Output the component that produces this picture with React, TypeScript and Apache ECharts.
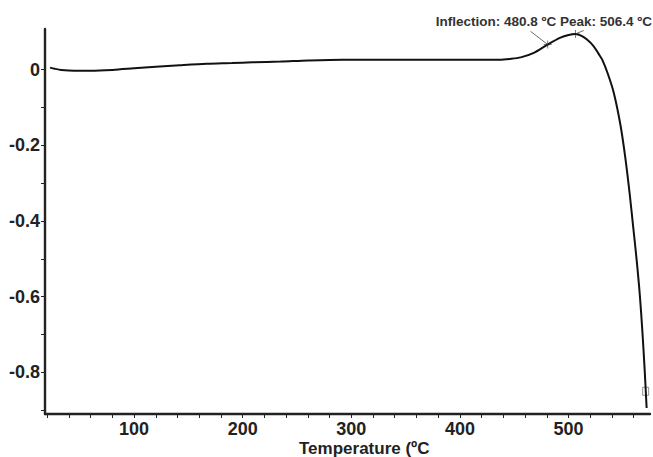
import React, { useEffect, useRef } from "react";
import * as echarts from "echarts";

// Temperature (ºC) and signal values
const temperature: number[] = [
  22.6, 27, 33, 45, 60, 80, 100, 120, 142, 167, 190, 209, 235, 260, 292, 320, 360, 400, 436,
  446, 456, 468, 480.8, 492.6, 500, 506.4, 512, 517, 523, 528, 531, 536, 541.7, 548, 552.5,
  556.2, 559.5, 562.7, 565.5, 567.9, 570.1, 571.9,
];
const signal: number[] = [
  0.005, 0.002, -0.001, -0.003, -0.003, -0.001, 0.003, 0.007, 0.011, 0.015, 0.017, 0.019, 0.021,
  0.024, 0.026, 0.026, 0.026, 0.026, 0.026, 0.028, 0.032, 0.044, 0.066, 0.084, 0.091, 0.094,
  0.089, 0.079, 0.062, 0.04, 0.026, -0.01, -0.062, -0.15, -0.238, -0.326, -0.415, -0.503,
  -0.591, -0.688, -0.794, -0.894,
];

const xTicks: number[] = [20, 40, 60, 80, 100, 120, 140, 160, 180, 200, 220, 240, 260, 280, 300, 320, 340, 360, 380, 400, 420, 440, 460, 480, 500, 520, 540, 560];
const xLabels: number[] = [100, 200, 300, 400, 500];
const yTicks: number[] = [-0.9, -0.8, -0.7, -0.6, -0.5, -0.4, -0.3, -0.2, -0.1, 0];
const yLabels: number[] = [-0.8, -0.6, -0.4, -0.2, 0];

const inflection: [number, number] = [480.8, 0.066];
const peak: [number, number] = [506.4, 0.094];
const inflectionLeaderEnd: [number, number] = [465, 0.101];
const peakLeaderEnd: [number, number] = [514, 0.103];
const endMarker: [number, number] = [571, -0.85];

const annotationText = "Inflection: 480.8 ºC Peak: 506.4 ºC";
const xTitle = "Temperature (ºC";

const FONT = "'Liberation Sans', Arial, Helvetica, sans-serif";
const DARK = "#222";

export default function App() {
  const ref = useRef<HTMLDivElement>(null);

  useEffect(() => {
    document.body.style.margin = "0";
    if (!ref.current) return;
    const chart = echarts.init(ref.current, undefined, { renderer: "svg" });
    const crossPath = "path://M0,5 L10,5 M5,0 L5,10";
    chart.setOption({
      animation: false,
      backgroundColor: "#fff",
      grid: {
        left: 45,
        right: 3,
        top: 29,
        bottom: 43,
        containLabel: false,
        outerBoundsMode: "none",
      },
      xAxis: {
        type: "value",
        min: 18,
        max: 575,
        axisLine: { show: true, onZero: false, lineStyle: { color: DARK, width: 2.4 } },
        axisTick: {
          show: true,
          customValues: xTicks,
          length: 4,
          inside: false,
          lineStyle: { color: DARK, width: 1 },
        },
        axisLabel: {
          customValues: xLabels,
          fontFamily: FONT,
          fontWeight: "bold",
          fontSize: 18,
          color: DARK,
          margin: 6,
        },
        splitLine: { show: false },
      },
      yAxis: {
        type: "value",
        min: -0.91,
        max: 0.107,
        axisLine: { show: true, onZero: false, lineStyle: { color: DARK, width: 2.4 } },
        axisTick: {
          show: true,
          customValues: yTicks,
          length: 4,
          inside: false,
          lineStyle: { color: DARK, width: 1 },
        },
        axisLabel: {
          customValues: yLabels,
          fontFamily: FONT,
          fontWeight: "bold",
          fontSize: 18,
          color: DARK,
          margin: 5,
          formatter: (v: number) => (Math.abs(v) < 1e-9 ? "0" : String(Math.round(v * 10) / 10)),
        },
        splitLine: { show: false },
      },
      series: [
        {
          type: "line",
          data: temperature.map((t, i) => [t, signal[i]]),
          smooth: 0.3,
          showSymbol: false,
          symbol: "none",
          lineStyle: { color: "#111", width: 2 },
          silent: true,
        },
        {
          type: "scatter",
          data: [inflection, peak],
          symbol: crossPath,
          symbolSize: 8,
          itemStyle: { color: "none", borderColor: "#333", borderWidth: 0.8 },
          silent: true,
          markLine: {
            silent: true,
            symbol: ["none", "none"],
            label: { show: false },
            lineStyle: { color: "#444", width: 0.8, type: "solid" },
            data: [
              [{ coord: inflectionLeaderEnd }, { coord: inflection }],
              [{ coord: peak }, { coord: peakLeaderEnd }],
            ],
          },
        },
        {
          type: "scatter",
          data: [endMarker],
          symbol: "rect",
          symbolSize: [6, 8],
          itemStyle: { color: "none", borderColor: "#555", borderWidth: 0.8 },
          silent: true,
        },
      ],
      graphic: [
        {
          type: "text",
          right: 1,
          top: 14,
          style: {
            text: annotationText,
            fontFamily: FONT,
            fontWeight: "bold",
            fontSize: 13.5,
            fill: "#333",
          },
        },
        {
          type: "text",
          left: 299,
          top: 440,
          style: {
            text: xTitle,
            fontFamily: FONT,
            fontWeight: "bold",
            fontSize: 17,
            fill: DARK,
          },
        },
      ],
    });
    return () => chart.dispose();
  }, []);

  return <div ref={ref} style={{ width: 653, height: 457 }} />;
}
